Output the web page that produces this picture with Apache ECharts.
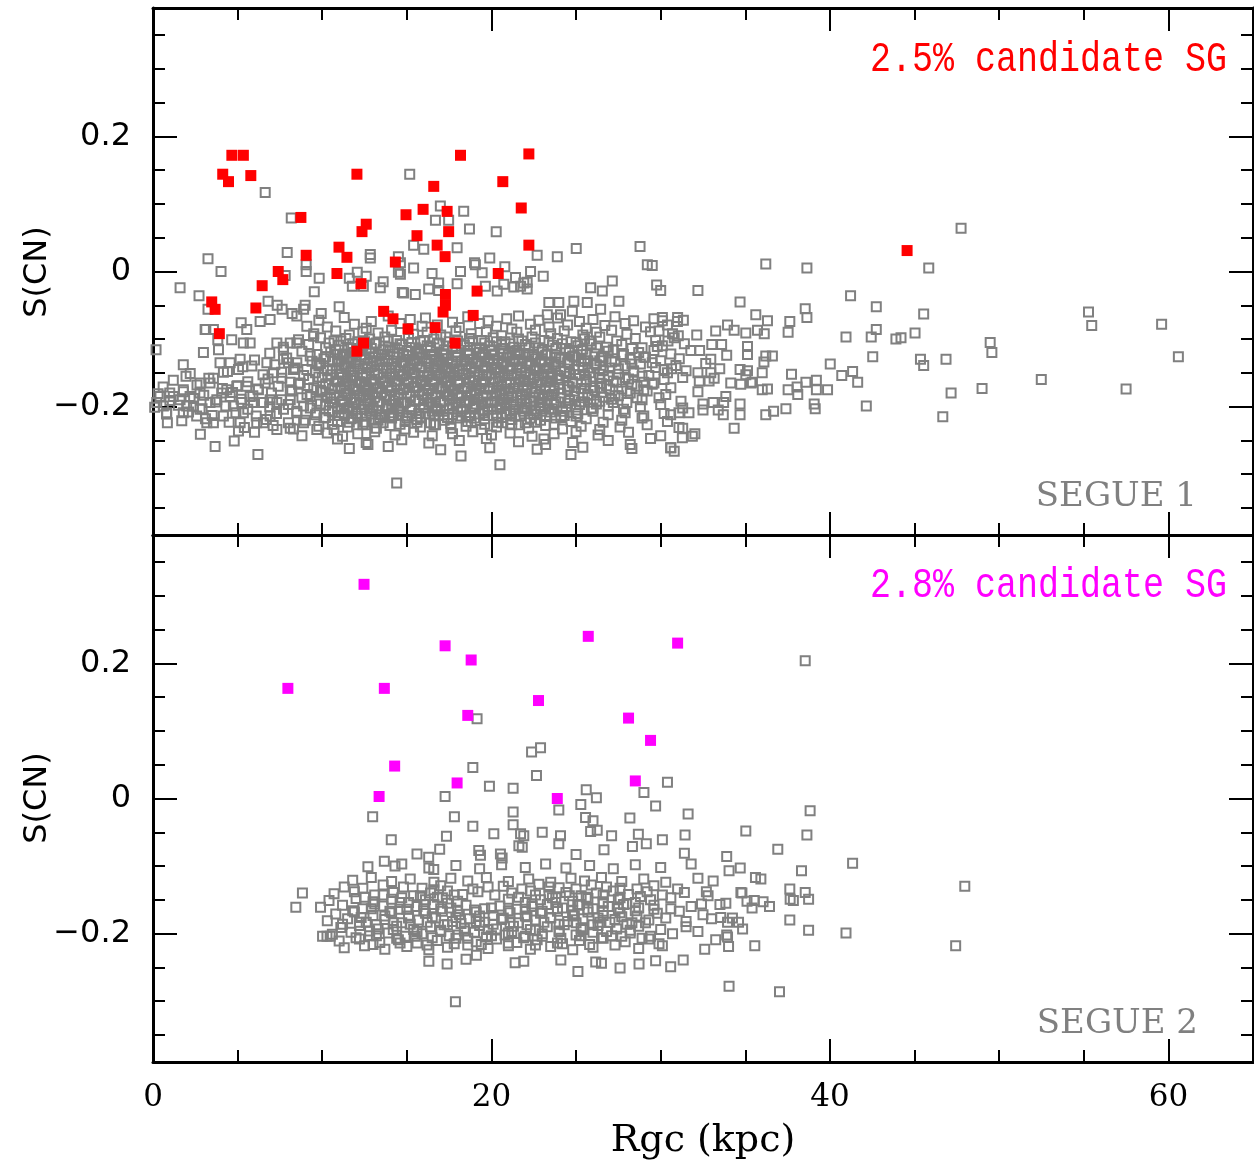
<!DOCTYPE html>
<html><head><meta charset="utf-8">
<script src="https://cdn.jsdelivr.net/npm/echarts@6/dist/echarts.min.js"></script>
<style>html,body{margin:0;padding:0;background:#fff}#c{width:1254px;height:1160px}</style>
</head><body><div id="c"></div>
<script>
// ---------- tick values ----------
const xMajorTicks = [0, 20, 40, 60];
const xMinorTicks = [5, 10, 15, 25, 30, 35, 45, 50, 55];
const yMajorTicks = [-0.2, 0, 0.2];
const yMinorTicks = [-0.35, -0.3, -0.25, -0.15, -0.1, -0.05, 0.05, 0.1, 0.15, 0.25, 0.3, 0.35];

// ---------- SEGUE 1 : candidate SG (red) ----------
const s1Red = [[4.66,.172],[5.34,.172],[4.12,.144],[4.46,.133],[5.78,.142],[12.05,.144],[8.74,.080],[9.05,.024],[12.6,.070],[12.35,.059],[10.99,.036],[11.46,.021],[7.40,.000],[7.67,-.012],[10.87,-.003],[12.29,-.018],[6.45,-.021],[3.47,-.045],[3.67,-.056],[6.08,-.054],[3.92,-.092],[12.44,-.106],[12.05,-.118],[14.32,.014],[13.63,-.059],[14.18,-.070],[18.17,.172],[22.21,.174],[16.59,.126],[20.67,.133],[21.76,.094],[14.95,.084],[15.96,.092],[17.38,.089],[15.6,.053],[17.47,.059],[16.79,.039],[22.21,.039],[17.26,.022],[20.4,-.003],[19.15,-.029],[17.28,-.034],[17.28,-.050],[17.14,-.060],[18.92,-.065],[15.07,-.085],[16.67,-.083],[17.85,-.106],[44.56,.031]];

// ---------- SEGUE 1 : all other stars (grey) ----------
const s1GrayHigh = [[6.63,.117],[15.17,.144],[8.17,.079],[7.93,.028],[3.25,.019],[4.02,.0],[1.6,-.024],[2.72,-.036],[3.25,-.056],[9.05,.010],[9.05,.0],[7.81,-.006],[9.82,-.010],[9.53,-.030],[8.99,-.050],[6.8,-.044],[7.34,-.050],[7.63,-.056],[8.22,-.062],[11.0,-.052],[9.94,-.062],[11.6,-.010],[11.78,-.022],[12.84,.025],[12.84,.020],[12.07,-.001],[12.6,-.007],[12.43,-.022],[13.6,-.015],[13.43,-.024],[14.73,-.031],[14.5,-.001],[14.5,.022],[16.98,.097],[16.69,.076],[17.47,.076],[18.36,.089],[18.7,.063],[20.28,.059],[15.4,.039],[16.0,.033],[17.97,.035],[25.01,.034],[28.78,.037],[29.21,.010],[22.7,.024],[23.89,.022],[19.9,.020],[19.0,.013],[19.45,-.002],[20.79,.007],[21.42,-.009],[22.31,.0],[23.06,-.007],[22.11,-.016],[21.72,-.022],[16.49,-.003],[18.17,.0],[17.97,-.018],[16.88,-.017],[15.4,.005],[14.62,.013],[14.62,-.004],[14.81,-.032],[15.5,-.034],[16.29,-.026],[16.88,-.028],[19.05,.010],[19.64,-.022],[20.34,-.029],[20.73,-.019],[21.32,-.023],[21.91,-.017],[22.11,-.026],[25.86,-.024],[26.55,-.029],[27.14,-.014],[27.53,-.044],[26.45,-.056],[23.39,-.046],[23.98,-.046],[24.87,-.044],[25.66,-.046],[24.78,-.059],[24.08,-.064],[23.3,-.064]];

const s1GrayLeft = [[0.22,-.194],[0.81,-.209],[0.85,-.224],[1.2,-.185],[1.79,-.138],[1.95,-.155],[2.19,-.185],[2.39,-.199],[1.79,-.209],[2.58,-.214],[2.78,-.180],[2.98,-.120],[3.08,-.086],[3.57,-.086],[3.87,-.116],[3.96,-.135],[3.57,-.158],[4.16,-.149],[4.36,-.175],[4.95,-.170],[4.56,-.185],[5.15,-.130],[5.05,-.145],[4.65,-.101],[5.21,-.076],[5.54,-.086],[5.74,-.106],[5.84,-.140],[6.33,-.074],[6.73,-.135],[6.92,-.071],[7.32,-.106],[6.23,-.175],[5.74,-.185],[5.34,-.209],[5.15,-.224],[5.05,-.236],[6.13,-.224],[7.32,-.234],[8.11,-.232],[6.63,-.165],[7.71,-.130],[8.11,-.106],[8.5,-.106],[8.01,-.135],[8.3,-.145],[7.61,-.158],[8.11,-.175],[8.7,-.165],[9.09,-.145],[9.29,-.125],[9.68,-.135],[0.99,-.180],[1.6,-.190],[1.99,-.199],[2.78,-.204],[3.37,-.194],[3.77,-.190],[4.06,-.180],[4.75,-.199],[5.25,-.194],[5.54,-.170],[5.94,-.194],[6.53,-.194],[6.92,-.190],[7.32,-.194],[7.71,-.204],[8.11,-.190],[8.5,-.209],[8.9,-.199],[9.29,-.185],[9.68,-.175],[9.68,-.209],[8.9,-.224],[6.92,-.214],[6.53,-.224],[9.68,-.234],[9.49,-.096],[9.09,-.081],[8.5,-.066],[8.9,-.056],[7.71,-.116],[7.12,-.150],[8.5,-.135],[3.37,-.165],[2.78,-.165],[1.79,-.175],[0.41,-.185],[0.61,-.199],[3.18,-.224],[4.16,-.214],[3.57,-.224],[4.56,-.135],[5.34,-.106],[0.18,-.116],[3.12,-.086],[3.83,-.101]];

const s1GrayRight = [[29.5,.009],[36.21,.011],[38.64,.005],[29.76,-.020],[30.0,-.028],[32.2,-.028],[34.69,-.045],[41.22,-.036],[42.74,-.052],[35.62,-.064],[36.31,-.073],[38.54,-.055],[38.64,-.068],[37.63,-.074],
[33.95,-.079],[34.34,-.087],[35.03,-.091],[35.72,-.087],[36.12,-.092],[33.25,-.088],[32.13,-.094],[33.02,-.108],[33.6,-.108],[33.9,-.124],[31.78,-.117],[32.3,-.117],[32.96,-.130],[32.66,-.136],[33.49,-.144],[32.96,-.150],[32.86,-.162],[33.16,-.158],[34.69,-.145],[34.14,-.165],[34.73,-.167],[35.42,-.164],[36.0,-.175],[36.31,-.174],[33.85,-.185],[33.72,-.194],[34.69,-.196],[34.69,-.212],[34.34,-.232],[32.2,-.150],[32.28,-.162],[32.2,-.178],[32.5,-.196],[32.5,-.205],[33.1,-.194],[33.4,-.205],[33.7,-.212],[30.64,-.144],[31.08,-.231],[31.28,-.246],[31.87,-.244],[32.02,-.240],[30.59,-.261],[31.08,-.209],[31.67,-.209],[30.59,-.212],[35.33,-.165],[35.03,-.153],[35.13,-.147],[36.0,-.150],[36.1,-.134],[36.21,-.125],[36.6,-.125],[35.13,-.111],[35.13,-.123],[40.02,-.137],[40.7,-.154],[41.34,-.148],[41.64,-.164],[42.15,-.199],[39.86,-.175],[39.2,-.175],[39.2,-.161],[39.07,-.196],[39.13,-.203],[38.58,-.164],[38.1,-.182],[38.06,-.171],[37.73,-.152],[37.53,-.175],[37.4,-.203],[36.21,-.212],[36.67,-.207],[40.95,-.097],[42.44,-.097],[42.74,-.086],[43.9,-.100],[42.53,-.126],[37.53,-.090],[30.1,-.068],[30.1,-.073],[30.99,-.074],[31.34,-.072],[31.04,-.095],[29.9,-.088],[30.43,-.103],[29.8,-.111],
[47.75,.064],[45.84,.005],[45.54,-.063],[45.03,-.091],[44.2,-.098],[45.35,-.130],[45.54,-.139],[46.86,-.130],[49.47,-.105],[49.57,-.120],[47.16,-.180],[48.99,-.173],[46.67,-.215],[52.49,-.160],[55.28,-.060],[55.47,-.080],[59.6,-.078],[60.59,-.126],[57.5,-.174]];

const s1CoreUpper = [
[9.8,-.072],[11.3,-.068],[12.9,-.074],[13.9,-.066],[15.2,-.071],[16.1,-.069],[17.7,-.075],[18.6,-.067],[19.8,-.073],[20.9,-.070],[21.6,-.066],[22.8,-.072],[23.9,-.069],[25.2,-.074],[26.0,-.071],[27.3,-.067],[28.4,-.073],[29.6,-.070],[31.0,-.068],
[10.3,-.082],[11.9,-.078],[12.6,-.084],[14.6,-.077],[15.9,-.081],[16.8,-.079],[18.1,-.083],[19.3,-.077],[20.3,-.081],[21.2,-.085],[22.3,-.078],[23.4,-.082],[24.5,-.079],[25.6,-.084],[26.7,-.080],[27.9,-.077],[29.1,-.082],[30.4,-.079],
[9.5,-.092],[10.8,-.088],[11.6,-.094],[12.4,-.089],[13.3,-.091],[14.1,-.087],[15.4,-.093],[16.2,-.090],[17.0,-.094],[17.9,-.088],[18.8,-.092],[19.7,-.089],[20.6,-.095],[21.5,-.090],[22.6,-.087],[23.5,-.092],[24.3,-.088],[25.4,-.094],[26.2,-.090],[27.1,-.087],[28.0,-.093],[29.4,-.089],[30.7,-.092],
[8.6,-.101],[9.9,-.098],[10.7,-.103],[11.4,-.099],[12.1,-.104],[12.8,-.100],[13.7,-.097],[14.4,-.102],[15.1,-.099],[15.8,-.104],[16.6,-.100],[17.3,-.097],[18.0,-.103],[18.7,-.099],[19.4,-.102],[20.1,-.098],[20.8,-.104],[21.6,-.100],[22.4,-.097],[23.1,-.102],[23.9,-.099],[24.7,-.104],[25.5,-.100],[26.4,-.097],[27.4,-.103],[28.5,-.099],[29.7,-.102],[30.8,-.098],
[7.7,-.112],[9.2,-.108],[10.2,-.113],[11.0,-.109],[11.7,-.114],[12.4,-.110],[13.1,-.107],[13.9,-.112],[14.7,-.108],[15.5,-.113],[16.2,-.110],[16.9,-.107],[17.7,-.112],[18.4,-.109],[19.1,-.114],[19.9,-.110],[20.6,-.107],[21.3,-.112],[22.0,-.108],[22.8,-.113],[23.6,-.109],[24.4,-.114],[25.1,-.110],[25.9,-.107],[26.8,-.112],[27.7,-.108],[28.9,-.113],[30.1,-.110],[31.4,-.107],
[6.9,-.121],[8.8,-.118],[9.7,-.123],[10.5,-.119],[11.2,-.124],[11.9,-.120],[12.6,-.117],[13.3,-.122],[14.0,-.118],[14.8,-.123],[15.6,-.120],[16.4,-.117],[17.1,-.122],[17.9,-.119],[18.6,-.124],[19.3,-.120],[20.0,-.117],[20.7,-.122],[21.4,-.118],[22.2,-.123],[23.0,-.119],[23.8,-.124],[24.6,-.120],[25.3,-.117],[26.1,-.122],[26.9,-.118],[27.8,-.123],[28.7,-.120],[29.6,-.117],[30.6,-.122],
[6.0,-.131],[7.9,-.128],[9.4,-.133],[10.1,-.129],[10.9,-.134],[11.6,-.130],[12.3,-.127],[13.0,-.132],[13.7,-.128],[14.4,-.133],[15.2,-.130],[15.9,-.127],[16.7,-.132],[17.4,-.129],[18.2,-.134],[18.9,-.130],[19.6,-.127],[20.4,-.132],[21.1,-.128],[21.8,-.133],[22.6,-.129],[23.4,-.134],[24.1,-.130],[24.9,-.127],[25.7,-.132],[26.5,-.128],[27.3,-.133],[28.2,-.130],[29.1,-.127],[30.0,-.132],[31.1,-.129]];

const s1CoreMiddle = [
[5.3,-.141],[7.2,-.138],[8.4,-.143],[9.8,-.139],[10.6,-.144],[11.3,-.140],[12.0,-.137],[12.7,-.142],[13.4,-.138],[14.1,-.143],[14.9,-.140],[15.6,-.137],[16.3,-.142],[17.1,-.139],[17.8,-.144],[18.5,-.140],[19.2,-.137],[20.0,-.142],[20.7,-.138],[21.5,-.143],[22.3,-.139],[23.1,-.144],[23.8,-.140],[24.6,-.137],[25.4,-.142],[26.2,-.138],[27.0,-.143],[27.9,-.140],[28.8,-.137],[29.7,-.142],[30.9,-.139],
[2.2,-.151],[4.4,-.148],[6.5,-.153],[7.6,-.149],[8.9,-.154],[9.6,-.150],[10.3,-.147],[11.0,-.152],[11.7,-.148],[12.4,-.153],[13.1,-.150],[13.8,-.147],[14.6,-.152],[15.3,-.149],[16.0,-.154],[16.8,-.150],[17.5,-.147],[18.3,-.152],[19.0,-.148],[19.7,-.153],[20.4,-.149],[21.2,-.154],[22.0,-.150],[22.7,-.147],[23.5,-.152],[24.3,-.148],[25.0,-.153],[25.8,-.150],[26.6,-.147],[27.5,-.152],[28.4,-.149],[29.3,-.154],[30.4,-.150],[31.5,-.147],
[1.2,-.161],[3.3,-.158],[5.6,-.163],[6.8,-.159],[8.1,-.164],[9.2,-.160],[10.0,-.157],[10.8,-.162],[11.5,-.158],[12.2,-.163],[12.9,-.160],[13.6,-.157],[14.3,-.162],[15.0,-.159],[15.8,-.164],[16.5,-.160],[17.2,-.157],[18.0,-.162],[18.7,-.158],[19.5,-.163],[20.2,-.159],[20.9,-.164],[21.7,-.160],[22.5,-.157],[23.3,-.162],[24.0,-.158],[24.8,-.163],[25.6,-.160],[26.4,-.157],[27.2,-.162],[28.1,-.159],[29.0,-.164],[30.2,-.160],[31.3,-.157],
[0.6,-.171],[2.6,-.168],[4.1,-.173],[5.0,-.169],[6.2,-.174],[7.4,-.170],[8.6,-.167],[9.5,-.172],[10.4,-.168],[11.1,-.173],[11.8,-.170],[12.5,-.167],[13.2,-.172],[13.9,-.169],[14.6,-.174],[15.4,-.170],[16.1,-.167],[16.9,-.172],[17.6,-.168],[18.4,-.173],[19.1,-.169],[19.9,-.174],[20.6,-.170],[21.4,-.167],[22.1,-.172],[22.9,-.168],[23.7,-.173],[24.5,-.170],[25.3,-.167],[26.0,-.172],[26.8,-.169],[27.7,-.174],[28.6,-.170],[29.5,-.167],[30.6,-.172],
[0.3,-.181],[1.8,-.178],[3.0,-.183],[4.7,-.179],[5.9,-.184],[7.0,-.180],[8.2,-.177],[9.1,-.182],[10.0,-.178],[10.7,-.183],[11.4,-.180],[12.1,-.177],[12.8,-.182],[13.5,-.179],[14.3,-.184],[15.0,-.180],[15.7,-.177],[16.5,-.182],[17.3,-.178],[18.0,-.183],[18.8,-.179],[19.5,-.184],[20.3,-.180],[21.0,-.177],[21.8,-.182],[22.6,-.178],[23.4,-.183],[24.1,-.180],[24.9,-.177],[25.7,-.182],[26.5,-.179],[27.3,-.184],[28.2,-.180],[29.2,-.177],[30.3,-.182],
[1.0,-.191],[2.4,-.188],[3.7,-.193],[5.2,-.189],[6.4,-.194],[7.6,-.190],[8.8,-.187],[9.7,-.192],[10.5,-.188],[11.2,-.193],[11.9,-.190],[12.6,-.187],[13.3,-.192],[14.0,-.189],[14.8,-.194],[15.5,-.190],[16.2,-.187],[17.0,-.192],[17.7,-.188],[18.5,-.193],[19.2,-.189],[20.0,-.194],[20.7,-.190],[21.5,-.187],[22.3,-.192],[23.0,-.188],[23.8,-.193],[24.6,-.190],[25.4,-.187],[26.2,-.192],[27.1,-.189],[28.0,-.194],[28.9,-.190],[29.9,-.187],[31.2,-.192]];

const s1CoreLower = [
[0.1,-.201],[1.5,-.198],[2.9,-.203],[4.3,-.199],[5.6,-.204],[6.9,-.200],[8.0,-.197],[9.3,-.202],[10.2,-.198],[10.9,-.203],[11.6,-.200],[12.3,-.197],[13.0,-.202],[13.8,-.199],[14.5,-.204],[15.2,-.200],[16.0,-.197],[16.7,-.202],[17.5,-.198],[18.2,-.203],[19.0,-.199],[19.8,-.204],[20.5,-.200],[21.3,-.197],[22.0,-.202],[22.8,-.198],[23.6,-.203],[24.4,-.200],[25.2,-.197],[26.0,-.202],[26.9,-.199],[27.8,-.204],[28.8,-.200],[30.0,-.197],[31.3,-.202],
[0.8,-.211],[2.1,-.208],[3.5,-.213],[4.9,-.209],[6.1,-.214],[7.3,-.210],[8.5,-.207],[9.6,-.212],[10.6,-.208],[11.3,-.213],[12.0,-.210],[12.8,-.207],[13.5,-.212],[14.2,-.209],[15.0,-.214],[15.7,-.210],[16.5,-.207],[17.2,-.212],[18.0,-.208],[18.7,-.213],[19.5,-.209],[20.3,-.214],[21.1,-.210],[21.9,-.207],[22.7,-.212],[23.5,-.208],[24.3,-.213],[25.1,-.210],[26.0,-.207],[26.9,-.212],[27.9,-.209],[29.0,-.214],[30.2,-.210],
[1.7,-.221],[3.1,-.218],[4.5,-.223],[6.7,-.219],[8.0,-.224],[9.0,-.220],[10.1,-.217],[10.9,-.222],[11.7,-.218],[12.5,-.223],[13.3,-.220],[14.1,-.217],[14.9,-.222],[15.6,-.219],[16.4,-.224],[17.2,-.220],[18.0,-.217],[18.8,-.222],[19.6,-.218],[20.4,-.223],[21.2,-.219],[22.0,-.224],[22.9,-.220],[23.8,-.217],[24.7,-.222],[25.6,-.218],[26.6,-.223],[27.7,-.220],[28.9,-.217],[30.4,-.222],
[5.4,-.231],[7.1,-.228],[8.3,-.233],[9.8,-.229],[10.7,-.234],[11.5,-.230],[12.4,-.227],[13.2,-.232],[14.0,-.228],[14.9,-.233],[15.8,-.230],[16.7,-.227],[17.6,-.232],[18.5,-.229],[19.4,-.234],[20.3,-.230],[21.2,-.227],[22.2,-.232],[23.2,-.228],[24.2,-.233],[25.3,-.229],[26.4,-.234],[27.6,-.230],[29.2,-.227],[31.3,-.232],
[2.8,-.241],[6.0,-.238],[8.8,-.243],[10.3,-.239],[11.2,-.244],[12.1,-.240],[13.1,-.237],[14.3,-.242],[15.4,-.238],[16.5,-.243],[17.7,-.240],[18.9,-.237],[20.0,-.242],[21.1,-.239],[22.4,-.244],[23.7,-.240],[25.0,-.237],[26.3,-.242],[28.1,-.238],[30.0,-.243],
[4.8,-.251],[10.9,-.248],[12.6,-.253],[14.7,-.249],[16.3,-.254],[18.1,-.250],[19.7,-.247],[21.6,-.252],[23.1,-.248],[24.8,-.253],[26.9,-.250],[29.4,-.247],[3.67,-.259],[6.2,-.271],[12.7,-.256],[14.4,-.313],[18.2,-.273],[20.5,-.286],[23.2,-.256],[28.2,-.256],[30.6,-.261],[11.6,-.262],[13.9,-.259],[17.0,-.264],[19.9,-.261],[22.7,-.263],[25.4,-.260],[28.3,-.262],[24.7,-.271],[30.8,-.266]];

const s1CoreFill = [
[10.4,-.106],[11.1,-.103],[11.8,-.107],[12.5,-.104],[13.2,-.106],[13.9,-.103],[14.6,-.107],[15.3,-.105],[16.0,-.102],[16.8,-.106],[17.5,-.104],[18.2,-.107],[18.9,-.103],[19.6,-.106],[20.3,-.104],[21.1,-.107],[21.8,-.103],[22.6,-.106],[23.4,-.104],[24.2,-.107],[25.0,-.105],[25.8,-.103],
[10.8,-.116],[11.5,-.113],[12.2,-.117],[12.9,-.114],[13.6,-.116],[14.3,-.113],[15.0,-.117],[15.7,-.115],[16.4,-.112],[17.2,-.116],[17.9,-.114],[18.6,-.117],[19.3,-.113],[20.0,-.116],[20.7,-.114],[21.5,-.117],[22.2,-.113],[23.0,-.116],[23.8,-.114],[24.6,-.117],[25.4,-.115],[26.2,-.113],[27.2,-.116],[28.3,-.114],
[10.2,-.126],[10.9,-.123],[11.6,-.127],[12.3,-.124],[13.0,-.126],[13.7,-.123],[14.4,-.127],[15.1,-.125],[15.8,-.122],[16.6,-.126],[17.3,-.124],[18.0,-.127],[18.7,-.123],[19.4,-.126],[20.1,-.124],[20.9,-.127],[21.6,-.123],[22.4,-.126],[23.2,-.124],[24.0,-.127],[24.8,-.125],[25.6,-.123],[26.6,-.126],[27.7,-.124],[29.0,-.127],
[9.9,-.136],[10.6,-.133],[11.3,-.137],[12.0,-.134],[12.7,-.136],[13.4,-.133],[14.1,-.137],[14.8,-.135],[15.5,-.132],[16.3,-.136],[17.0,-.134],[17.7,-.137],[18.4,-.133],[19.1,-.136],[19.8,-.134],[20.6,-.137],[21.3,-.133],[22.1,-.136],[22.9,-.134],[23.7,-.137],[24.5,-.135],[25.3,-.133],[26.1,-.136],[27.1,-.134],[28.3,-.137],[29.5,-.135],
[10.3,-.146],[11.0,-.143],[11.7,-.147],[12.4,-.144],[13.1,-.146],[13.8,-.143],[14.5,-.147],[15.2,-.145],[15.9,-.142],[16.7,-.146],[17.4,-.144],[18.1,-.147],[18.8,-.143],[19.5,-.146],[20.2,-.144],[21.0,-.147],[21.7,-.143],[22.5,-.146],[23.3,-.144],[24.1,-.147],[24.9,-.145],[25.7,-.143],[26.6,-.146],[27.5,-.144],[28.4,-.147],[30.2,-.145],
[9.8,-.156],[10.5,-.153],[11.2,-.157],[11.9,-.154],[12.6,-.156],[13.3,-.153],[14.0,-.157],[14.7,-.155],[15.4,-.152],[16.2,-.156],[16.9,-.154],[17.6,-.157],[18.3,-.153],[19.0,-.156],[19.7,-.154],[20.5,-.157],[21.2,-.153],[22.0,-.156],[22.8,-.154],[23.6,-.157],[24.4,-.155],[25.2,-.153],[26.0,-.156],[26.9,-.154],[27.9,-.157],[28.9,-.155],
[10.2,-.166],[10.9,-.163],[11.6,-.167],[12.3,-.164],[13.0,-.166],[13.7,-.163],[14.4,-.167],[15.1,-.165],[15.8,-.162],[16.6,-.166],[17.3,-.164],[18.0,-.167],[18.7,-.163],[19.4,-.166],[20.1,-.164],[20.9,-.167],[21.6,-.163],[22.4,-.166],[23.2,-.164],[24.0,-.167],[24.8,-.165],[25.6,-.163],[26.5,-.166],[27.4,-.164],[28.3,-.167],[29.6,-.165],
[9.9,-.176],[10.6,-.173],[11.3,-.177],[12.0,-.174],[12.7,-.176],[13.4,-.173],[14.1,-.177],[14.8,-.175],[15.5,-.172],[16.3,-.176],[17.0,-.174],[17.7,-.177],[18.4,-.173],[19.1,-.176],[19.8,-.174],[20.6,-.177],[21.3,-.173],[22.1,-.176],[22.9,-.174],[23.7,-.177],[24.5,-.175],[25.3,-.173],[26.1,-.176],[27.0,-.174],[28.0,-.177],[29.0,-.175],
[10.3,-.186],[11.0,-.183],[11.7,-.187],[12.4,-.184],[13.1,-.186],[13.8,-.183],[14.5,-.187],[15.2,-.185],[15.9,-.182],[16.7,-.186],[17.4,-.184],[18.1,-.187],[18.8,-.183],[19.5,-.186],[20.2,-.184],[21.0,-.187],[21.7,-.183],[22.5,-.186],[23.3,-.184],[24.1,-.187],[24.9,-.185],[25.7,-.183],[26.6,-.186],[27.5,-.184],[28.6,-.187],
[9.9,-.196],[10.6,-.193],[11.3,-.197],[12.0,-.194],[12.7,-.196],[13.4,-.193],[14.1,-.197],[14.8,-.195],[15.5,-.192],[16.3,-.196],[17.0,-.194],[17.7,-.197],[18.4,-.193],[19.1,-.196],[19.8,-.194],[20.6,-.197],[21.3,-.193],[22.1,-.196],[22.9,-.194],[23.7,-.197],[24.5,-.195],[25.3,-.193],[26.2,-.196],[27.2,-.194],
[10.4,-.206],[11.1,-.203],[11.8,-.207],[12.5,-.204],[13.2,-.206],[13.9,-.203],[14.6,-.207],[15.3,-.205],[16.0,-.202],[16.8,-.206],[17.5,-.204],[18.2,-.207],[18.9,-.203],[19.6,-.206],[20.3,-.204],[21.1,-.207],[21.8,-.203],[22.6,-.206],[23.4,-.204],[24.2,-.207],[25.0,-.205],[25.9,-.203],
[10.2,-.216],[11.0,-.213],[11.8,-.217],[12.6,-.214],[13.4,-.216],[14.2,-.213],[15.0,-.217],[15.8,-.215],[16.6,-.212],[17.4,-.216],[18.2,-.214],[19.0,-.217],[19.8,-.213],[20.6,-.216],[21.4,-.214],[22.3,-.217],[23.2,-.213],[24.1,-.216],[25.0,-.214],
[10.6,-.226],[11.6,-.223],[12.6,-.227],[13.6,-.224],[14.6,-.226],[15.6,-.223],[16.6,-.227],[17.6,-.225],[18.6,-.222],[19.6,-.226],[20.6,-.224],[21.6,-.227],[22.6,-.223],[23.7,-.226]];

const s1CoreDense = [
[11.3,-.122],[12.0,-.124],[12.8,-.121],[13.5,-.123],[14.2,-.122],[15.0,-.124],[15.7,-.121],[16.5,-.123],[17.2,-.122],[18.0,-.124],[18.7,-.121],[19.5,-.123],[20.2,-.122],[21.0,-.124],[21.7,-.121],[22.5,-.123],[23.3,-.122],
[11.0,-.132],[11.7,-.134],[12.5,-.131],[13.2,-.133],[13.9,-.132],[14.7,-.134],[15.4,-.131],[16.2,-.133],[16.9,-.132],[17.7,-.134],[18.4,-.131],[19.2,-.133],[19.9,-.132],[20.7,-.134],[21.4,-.131],[22.2,-.133],[23.0,-.132],[23.8,-.134],[24.6,-.131],[25.5,-.133],[26.4,-.132],
[11.4,-.142],[12.1,-.144],[12.9,-.141],[13.6,-.143],[14.3,-.142],[15.1,-.144],[15.8,-.141],[16.6,-.143],[17.3,-.142],[18.1,-.144],[18.8,-.141],[19.6,-.143],[20.3,-.142],[21.1,-.144],[21.8,-.141],[22.6,-.143],[23.4,-.142],
[11.1,-.152],[11.8,-.154],[12.6,-.151],[13.3,-.153],[14.0,-.152],[14.8,-.154],[15.5,-.151],[16.3,-.153],[17.0,-.152],[17.8,-.154],[18.5,-.151],[19.3,-.153],[20.0,-.152],[20.8,-.154],[21.5,-.151],[22.3,-.153],[23.1,-.152],[23.9,-.154],[24.6,-.151],[25.5,-.153],[26.4,-.152],
[11.4,-.162],[12.2,-.164],[12.9,-.161],[13.6,-.163],[14.4,-.162],[15.1,-.164],[15.9,-.161],[16.6,-.163],[17.4,-.162],[18.1,-.164],[18.9,-.161],[19.6,-.163],[20.4,-.162],[21.1,-.164],[21.9,-.161],[22.7,-.163],[23.5,-.162],
[11.1,-.172],[11.9,-.174],[12.6,-.171],[13.3,-.173],[14.1,-.172],[14.8,-.174],[15.6,-.171],[16.3,-.173],[17.1,-.172],[17.8,-.174],[18.6,-.171],[19.3,-.173],[20.1,-.172],[20.8,-.174],[21.6,-.171],[22.4,-.173],[23.2,-.172],[24.0,-.174],[24.6,-.171],[25.5,-.173],[26.4,-.172],
[11.5,-.182],[12.2,-.184],[13.0,-.181],[13.7,-.183],[14.5,-.182],[15.2,-.184],[16.0,-.181],[16.7,-.183],[17.5,-.182],[18.2,-.184],[19.0,-.181],[19.7,-.183],[20.5,-.182],[21.2,-.184],[22.0,-.181],[22.8,-.183],[23.6,-.182],
[11.2,-.192],[11.9,-.194],[12.7,-.191],[13.4,-.193],[14.2,-.192],[14.9,-.194],[15.7,-.191],[16.4,-.193],[17.2,-.192],[17.9,-.194],[18.7,-.191],[19.4,-.193],[20.2,-.192],[20.9,-.194],[21.7,-.191],[22.5,-.193],[23.3,-.192],[24.6,-.191],[25.5,-.193],[26.4,-.192],
[11.5,-.202],[12.3,-.204],[13.0,-.201],[13.8,-.203],[14.5,-.202],[15.3,-.204],[16.0,-.201],[16.8,-.203],[17.5,-.202],[18.3,-.204],[19.0,-.201],[19.8,-.203],[20.5,-.202],[21.3,-.204],[22.1,-.201],[22.9,-.203],
[11.3,-.212],[12.1,-.214],[12.9,-.211],[13.7,-.213],[14.5,-.212],[15.3,-.214],[16.1,-.211],[16.9,-.213],[17.7,-.212],[18.5,-.214],[19.3,-.211],[20.1,-.213],[20.9,-.212],[21.7,-.214],[22.5,-.211]];

// ---------- SEGUE 2 : candidate SG (magenta) ----------
const s2Magenta = [[12.47,.317],[7.97,.163],[13.67,.163],[14.28,.048],[13.36,.003],[17.26,.226],[18.8,.205],[25.72,.240],[31.0,.230],[22.78,.145],[18.6,.123],[28.1,.119],[29.4,.086],[17.97,.023],[28.5,.026],[23.89,.000]];

// ---------- SEGUE 2 : all other stars (grey) ----------
const s2GrayOut = [[38.54,.204],[19.15,.118],[22.37,.069],[22.9,.075],[18.9,.046],[22.66,.034],[19.88,.018],[21.28,.015],[30.4,.024],[25.6,.013],[26.2,.001],[29.01,.009],[17.26,.003],[23.98,-.017],[25.28,-.009],[29.7,-.011],[17.81,-.027],[21.28,-.020],[21.28,-.039],[31.62,-.023],[28.18,-.029],[12.98,-.027],[14.08,-.061],[13.67,-.093],[17.34,-.056],[18.9,-.041],[38.83,-.018],[38.64,-.054],[36.92,-.075],[41.34,-.096],[38.32,-.107],[35.92,-.119],[47.97,-.130],[37.63,-.134],[38.54,-.139],[37.65,-.149],[37.84,-.151],[38.74,-.149],[36.05,-.153],[36.43,-.160],[35.53,-.151],[37.63,-.180],[38.74,-.195],[40.95,-.199],[35.56,-.218],[47.43,-.218],[37.02,-.286],[35.03,-.048],[34.04,-.107],[32.7,-.138],[34.74,-.139],[35.1,-.152],[33.85,-.155],[32.41,-.156],[33.55,-.176],[33.95,-.183],[34.24,-.177],[34.84,-.193],[33.25,-.209],[33.95,-.205],[34.01,-.219],[29.9,-.215],[28.72,-.245],[27.6,-.251],[25.11,-.256],[26.16,-.242],[21.91,-.241],[19.11,-.232],[30.59,-.249],[31.33,-.239],[34.04,-.278],[17.87,-.301],[17.38,-.245],[8.83,-.140],[8.44,-.161],[10.02,-.204],[10.28,-.204],[10.47,-.204],[27.1,-.055],[28.33,-.071],[28.68,-.053],[29.15,-.067],[30.1,-.061],[31.44,-.054],[26.65,-.076],[20.14,-.052],[21.72,-.052],[21.91,-.055],[21.62,-.070],[21.82,-.072],[23.0,-.050],[24.08,-.055],[23.98,-.067],[19.25,-.077],[19.35,-.084],[16.94,-.075],[16.29,-.087],[16.59,-.105],[25.56,-.028],[26.0,-.033],[25.86,-.049],[26.25,-.047],[14.3,-.100],[20.53,-.082],[20.63,-.088]];

const s2CoreUpper = [
[15.6,-.082],[25.0,-.083],[31.4,-.081],[33.9,-.086],
[12.7,-.101],[14.7,-.097],[16.3,-.103],[17.9,-.099],[19.3,-.104],[20.6,-.098],[22.0,-.102],[23.2,-.097],[24.4,-.103],[25.8,-.099],[27.2,-.104],[28.5,-.098],[30.0,-.102],[31.8,-.097],[34.7,-.103],
[11.8,-.121],[12.9,-.117],[14.1,-.123],[15.2,-.119],[16.6,-.124],[17.6,-.118],[18.6,-.122],[19.7,-.117],[21.0,-.123],[22.2,-.119],[23.5,-.124],[24.7,-.118],[25.5,-.122],[26.5,-.117],[27.7,-.123],[29.0,-.119],[30.3,-.124],[32.2,-.118],[33.1,-.122],[35.6,-.117],
[11.3,-.131],[13.6,-.128],[15.9,-.133],[17.0,-.129],[18.9,-.134],[20.7,-.130],[22.8,-.127],[24.0,-.132],[25.9,-.128],[27.6,-.133],[29.6,-.129],[31.0,-.134],
[10.7,-.141],[11.9,-.138],[13.1,-.143],[14.2,-.139],[15.4,-.144],[16.4,-.140],[17.4,-.137],[18.3,-.142],[19.2,-.138],[20.2,-.143],[21.2,-.140],[22.3,-.137],[23.4,-.142],[24.4,-.139],[25.3,-.144],[26.2,-.140],[27.2,-.137],[28.1,-.142],[29.2,-.138],[30.1,-.143],[31.4,-.139],[32.8,-.144],[34.8,-.140],
[10.4,-.151],[12.0,-.148],[13.0,-.153],[14.1,-.149],[15.1,-.154],[16.1,-.150],[17.1,-.147],[18.0,-.152],[21.0,-.149],[22.0,-.154],[22.9,-.150],[23.8,-.147],[24.8,-.152],[25.7,-.148],[26.6,-.153],[27.5,-.149],[28.5,-.154],[29.4,-.150],[30.6,-.147]];

const s2CoreLower = [
[9.9,-.161],[11.2,-.158],[12.4,-.163],[13.6,-.159],[14.6,-.164],[15.6,-.160],[16.6,-.157],[17.6,-.162],[18.5,-.158],[19.6,-.163],[20.5,-.159],[21.5,-.164],[22.4,-.160],[23.3,-.157],[24.2,-.162],[25.1,-.158],[26.0,-.163],[26.9,-.160],[27.8,-.157],[28.7,-.162],[29.6,-.158],[30.6,-.163],[31.8,-.160],[33.5,-.157],[35.4,-.162],
[10.8,-.171],[11.9,-.168],[13.0,-.173],[14.1,-.169],[15.1,-.174],[16.1,-.170],[17.1,-.167],[18.1,-.172],[19.1,-.168],[20.1,-.173],[21.1,-.169],[22.0,-.174],[22.9,-.170],[23.9,-.167],[24.8,-.172],[25.7,-.168],[26.6,-.173],[27.6,-.169],[28.6,-.174],[29.8,-.170],[31.1,-.167],[32.5,-.172],
[10.3,-.181],[11.5,-.178],[12.6,-.183],[13.7,-.179],[14.7,-.184],[15.7,-.180],[16.7,-.177],[17.7,-.182],[18.7,-.178],[19.6,-.183],[20.6,-.179],[21.6,-.184],[22.6,-.180],[23.5,-.177],[24.5,-.182],[25.4,-.178],[26.4,-.183],[27.3,-.179],[28.3,-.184],[29.3,-.180],[30.3,-.177],[31.5,-.182],[33.0,-.178],[34.6,-.183],
[11.1,-.191],[12.2,-.188],[13.3,-.193],[14.4,-.189],[15.4,-.194],[16.4,-.190],[17.4,-.187],[18.4,-.192],[19.3,-.188],[20.3,-.193],[21.3,-.189],[22.3,-.194],[23.3,-.190],[24.3,-.187],[25.3,-.192],[26.3,-.188],[27.4,-.193],[28.7,-.189],[30.0,-.194],[31.5,-.190],
[10.6,-.201],[11.7,-.198],[12.8,-.203],[13.9,-.199],[14.9,-.204],[15.9,-.200],[17.0,-.197],[18.0,-.202],[19.0,-.198],[20.0,-.203],[21.0,-.199],[22.0,-.204],[23.0,-.200],[24.0,-.197],[25.0,-.202],[26.0,-.198],[27.1,-.203],[28.2,-.199],[29.4,-.204],[30.7,-.200],[32.2,-.197],[33.9,-.202],
[11.0,-.211],[12.2,-.208],[13.4,-.213],[14.5,-.209],[15.6,-.214],[16.8,-.210],[17.9,-.207],[19.1,-.212],[20.3,-.208],[21.5,-.213],[22.7,-.209],[23.9,-.214],[25.2,-.210],[26.6,-.207],[27.9,-.212],[29.3,-.208],
[11.3,-.221],[12.5,-.218],[13.7,-.223],[15.0,-.219],[16.3,-.224],[17.4,-.220],[18.6,-.217],[19.8,-.222],[21.0,-.218],[22.3,-.223],[23.5,-.219],[24.8,-.224],[26.0,-.220],[27.3,-.217],[28.7,-.222],[30.1,-.218],[32.6,-.223],
[16.3,-.241],[18.5,-.238],[21.4,-.243],[24.1,-.239],[26.5,-.244],[29.7,-.240]];

const s2CoreFill = [
[12.4,-.133],[14.8,-.131],[16.6,-.135],[19.8,-.131],[21.8,-.134],[23.4,-.131],[25.0,-.134],[26.8,-.131],[28.6,-.134],
[12.5,-.146],[13.6,-.143],[14.7,-.147],[15.8,-.144],[16.8,-.146],[17.8,-.143],[21.6,-.146],[22.6,-.143],[23.6,-.147],[24.6,-.144],[25.6,-.146],[26.6,-.143],[27.6,-.147],[28.8,-.145],
[11.8,-.166],[12.9,-.163],[14.0,-.167],[15.0,-.164],[16.0,-.166],[17.0,-.163],[18.0,-.167],[19.0,-.165],[20.0,-.162],[21.0,-.166],[22.0,-.164],[23.0,-.167],[23.9,-.163],[24.8,-.166],[25.7,-.164],[26.6,-.167],[27.5,-.163],[28.5,-.166],[29.6,-.164],
[11.2,-.186],[12.2,-.183],[13.2,-.187],[14.2,-.184],[15.2,-.186],[16.2,-.183],[17.2,-.187],[18.2,-.185],[19.1,-.182],[20.1,-.186],[21.1,-.184],[22.1,-.187],[23.1,-.183],[24.0,-.186],[25.0,-.184],[26.0,-.187],[27.0,-.183],[28.0,-.186],[29.1,-.184],
[12.0,-.206],[13.2,-.203],[14.4,-.207],[15.5,-.204],[16.5,-.206],[17.5,-.203],[18.6,-.207],[19.7,-.205],[20.8,-.202],[21.9,-.206],[23.0,-.204],[24.1,-.207],[25.3,-.203],[26.5,-.206],[27.7,-.204],[28.9,-.207],
[13.1,-.156],[14.6,-.154],[16.0,-.157],[17.4,-.155],[22.4,-.156],[23.8,-.154],[25.2,-.157],[26.6,-.155],[28.0,-.156],
[12.3,-.176],[13.7,-.174],[15.1,-.177],[16.5,-.175],[17.9,-.176],[19.3,-.174],[20.7,-.177],[22.1,-.175],[23.5,-.176],[24.9,-.174],[26.3,-.177],[27.7,-.175],
[12.8,-.196],[14.2,-.194],[15.6,-.197],[17.0,-.195],[18.4,-.196],[19.8,-.194],[21.2,-.197],[22.6,-.195],[24.0,-.196],[25.4,-.194],[26.8,-.197],[28.2,-.195],
[13.0,-.216],[14.6,-.214],[16.2,-.217],[17.8,-.215],[19.4,-.216],[21.0,-.214],[22.6,-.217],[24.2,-.215],[25.8,-.216]];

const s1Gray = [].concat(s1GrayHigh, s1GrayLeft, s1GrayRight, s1CoreUpper, s1CoreMiddle, s1CoreLower, s1CoreFill, s1CoreDense);
const s2Gray = [].concat(s2GrayOut, s2CoreUpper, s2CoreLower, s2CoreFill);

// ---------- chart ----------
const GREY = '#808080';
const tickFontY = '"DejaVu Sans", sans-serif';
const tickFontX = '"DejaVu Serif", serif';

function xAxis(grid, pos, ticks, len, showLine, showLabel) {
  return {
    type: 'value', gridIndex: grid, position: pos, min: 0, max: 65,
    axisLine: { show: showLine, onZero: false, lineStyle: { color: '#000', width: 3 } },
    axisTick: { show: true, inside: true, length: len, customValues: ticks, lineStyle: { color: '#000', width: 2 } },
    axisLabel: { show: showLabel, customValues: ticks, margin: 20, color: '#000', fontFamily: tickFontX, fontSize: 31 },
    splitLine: { show: false }
  };
}
function yAxis(grid, pos, ticks, len, showLine, showLabel) {
  return {
    type: 'value', gridIndex: grid, position: pos, min: -0.39, max: 0.39,
    axisLine: { show: showLine, onZero: false, lineStyle: { color: '#000', width: 3 } },
    axisTick: { show: true, inside: true, length: len, customValues: ticks, lineStyle: { color: '#000', width: 2 } },
    axisLabel: { show: showLabel, customValues: ticks, margin: 22, color: '#000', fontFamily: tickFontY, fontSize: 32,
      formatter: v => Math.abs(v) < 1e-9 ? '0' : (v < 0 ? '\u2212' + (-v) : String(v)) },
    splitLine: { show: false }
  };
}
const xAxes = [], yAxes = [];
[0, 1].forEach(g => {
  xAxes.push(xAxis(g, 'bottom', xMajorTicks, 23, true, g === 1));
  xAxes.push(xAxis(g, 'bottom', xMinorTicks, 12, false, false));
  xAxes.push(xAxis(g, 'top', xMajorTicks, 23, true, false));
  xAxes.push(xAxis(g, 'top', xMinorTicks, 12, false, false));
  yAxes.push(yAxis(g, 'left', yMajorTicks, 24, true, true));
  yAxes.push(yAxis(g, 'left', yMinorTicks, 12, false, false));
  yAxes.push(yAxis(g, 'right', yMajorTicks, 24, true, false));
  yAxes.push(yAxis(g, 'right', yMinorTicks, 12, false, false));
});

function scatter(data, axis, style, size) {
  return { type: 'scatter', data: data, xAxisIndex: axis, yAxisIndex: axis, symbol: 'rect',
    symbolSize: size, itemStyle: style, silent: true, animation: false, large: false, progressive: 0 };
}
const hollow = { color: 'rgba(0,0,0,0)', borderColor: GREY, borderWidth: 2, opacity: 1 };

const chart = echarts.init(document.getElementById('c'), null, { renderer: 'canvas' });
chart.setOption({
  animation: false,
  backgroundColor: '#fff',
  grid: [
    { left: 153, top: 8, width: 1100, height: 527 },
    { left: 153, top: 535, width: 1100, height: 527 }
  ],
  xAxis: xAxes,
  yAxis: yAxes,
  series: [
    scatter(s1Gray, 0, hollow, 9),
    scatter(s1Red, 0, { color: '#ff0000', opacity: 1 }, 11),
    scatter(s2Gray, 4, hollow, 9),
    scatter(s2Magenta, 4, { color: '#ff00ff', opacity: 1 }, 11)
  ],
  graphic: [
    { type: 'text', x: 1227, y: 60, scaleY: 1.2, style: { text: '2.5% candidate SG', fill: '#ff0000', font: '35px "Liberation Mono", monospace', textAlign: 'right', textVerticalAlign: 'middle' } },
    { type: 'text', x: 1197, y: 497, style: { text: 'SEGUE 1', fill: GREY, font: '34px "DejaVu Serif", serif', textAlign: 'right', textVerticalAlign: 'middle' } },
    { type: 'text', x: 1227, y: 586, scaleY: 1.2, style: { text: '2.8% candidate SG', fill: '#ff00ff', font: '35px "Liberation Mono", monospace', textAlign: 'right', textVerticalAlign: 'middle' } },
    { type: 'text', x: 1198, y: 1024, style: { text: 'SEGUE 2', fill: GREY, font: '34px "DejaVu Serif", serif', textAlign: 'right', textVerticalAlign: 'middle' } },
    { type: 'text', x: 38, y: 272, rotation: Math.PI / 2, style: { text: 'S(CN)', fill: '#000', font: '32px "DejaVu Sans", sans-serif', textAlign: 'center', textVerticalAlign: 'middle' } },
    { type: 'text', x: 38, y: 798, rotation: Math.PI / 2, style: { text: 'S(CN)', fill: '#000', font: '32px "DejaVu Sans", sans-serif', textAlign: 'center', textVerticalAlign: 'middle' } },
    { type: 'text', x: 703, y: 1141, style: { text: 'Rgc (kpc)', fill: '#000', font: '38px "DejaVu Serif", serif', textAlign: 'center', textVerticalAlign: 'middle' } }
  ]
});
</script></body></html>
